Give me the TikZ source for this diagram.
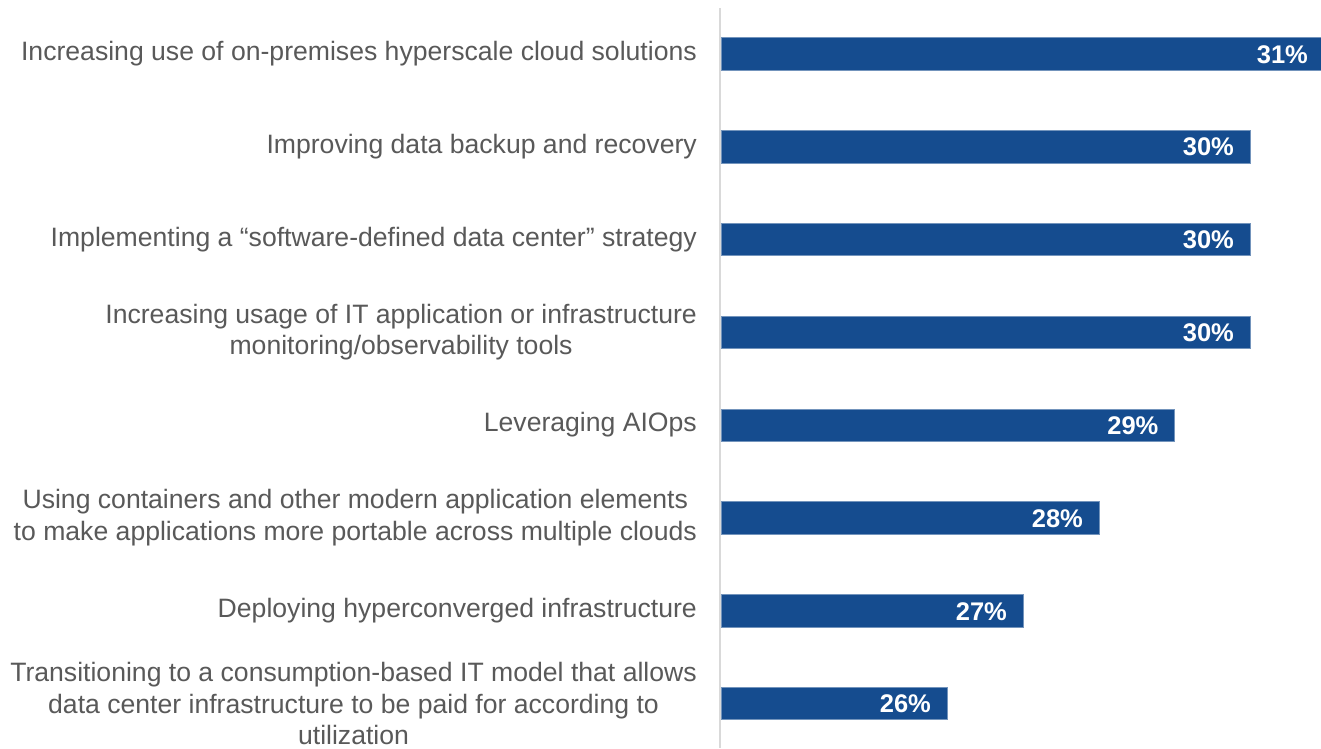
\documentclass[tikz,border=0pt]{standalone}
\usepackage{fontspec}
\setmainfont{Liberation Sans}
\definecolor{barblue}{HTML}{154C8F}
\definecolor{labelgray}{HTML}{595959}
\definecolor{axisgray}{HTML}{D9D9D9}
\begin{document}
\begin{tikzpicture}[x=1pt,y=-1pt,
  bar/.style={fill=barblue, draw=barblue!60!white, line width=0.6pt, anchor=west, inner sep=0pt, minimum height=32.5pt},
  cat/.style={anchor=east, align=center, text=labelgray, inner sep=0pt, font=\fontsize{26.6}{31.5}\selectfont},
  val/.style={anchor=east, text=white, inner sep=0pt, font=\fontsize{25.5}{30}\selectfont\bfseries}]
\useasboundingbox (0,0) rectangle (1321,748);
\fill[white] (0,0) rectangle (1321,748);
\coordinate (axtop) at (719.5,8);
\coordinate (axbot) at (719.5,748);
\draw[axisgray, line width=2pt] (axtop) -- (axbot);
% bars
\node[bar, minimum width=600pt] (b1) at (720.5,53.75) {};
\node[bar, minimum width=529pt] (b2) at (720.5,146.6) {};
\node[bar, minimum width=529pt] (b3) at (720.5,239.4) {};
\node[bar, minimum width=529pt] (b4) at (720.5,332.2) {};
\node[bar, minimum width=453.5pt] (b5) at (720.5,425.1) {};
\node[bar, minimum width=378pt] (b6) at (720.5,517.8) {};
\node[bar, minimum width=302pt] (b7) at (720.5,610.7) {};
\node[bar, minimum width=226pt] (b8) at (720.5,703.5) {};
% values
\node[val] (v1) at ([xshift=-13pt,yshift=-0.5pt]b1.east) {31\%};
\node[val] (v2) at ([xshift=-16pt,yshift=-0.5pt]b2.east) {30\%};
\node[val] (v3) at ([xshift=-16pt,yshift=-0.5pt]b3.east) {30\%};
\node[val] (v4) at ([xshift=-16pt,yshift=-0.5pt]b4.east) {30\%};
\node[val] (v5) at ([xshift=-16pt,yshift=-0.5pt]b5.east) {29\%};
\node[val] (v6) at ([xshift=-16pt,yshift=-0.5pt]b6.east) {28\%};
\node[val] (v7) at ([xshift=-16pt,yshift=-0.5pt]b7.east) {27\%};
\node[val] (v8) at ([xshift=-16pt,yshift=-0.5pt]b8.east) {26\%};
% categories
\node[cat] (c1) at (697,53.75) {Increasing use of on-premises hyperscale cloud solutions};
\node[cat] (c2) at (697,146.6) {Improving data backup and recovery};
\node[cat] (c3) at (697,239.4) {Implementing a “software-defined data center” strategy};
\node[cat] (c4) at (697,332.2) {Increasing usage of IT application or infrastructure\\monitoring/observability tools};
\node[cat] (c5) at (697,425.1) {Leveraging AIOps};
\node[cat] (c6) at (697,517.8) {Using containers and other modern application elements\\to make applications more portable across multiple clouds};
\node[cat] (c7) at (697,610.7) {Deploying hyperconverged infrastructure};
\node[cat] (c8) at (697,703.5) {Transitioning to a consumption-based IT model that allows\\data center infrastructure to be paid for according to\\utilization};
\end{tikzpicture}
\end{document}
